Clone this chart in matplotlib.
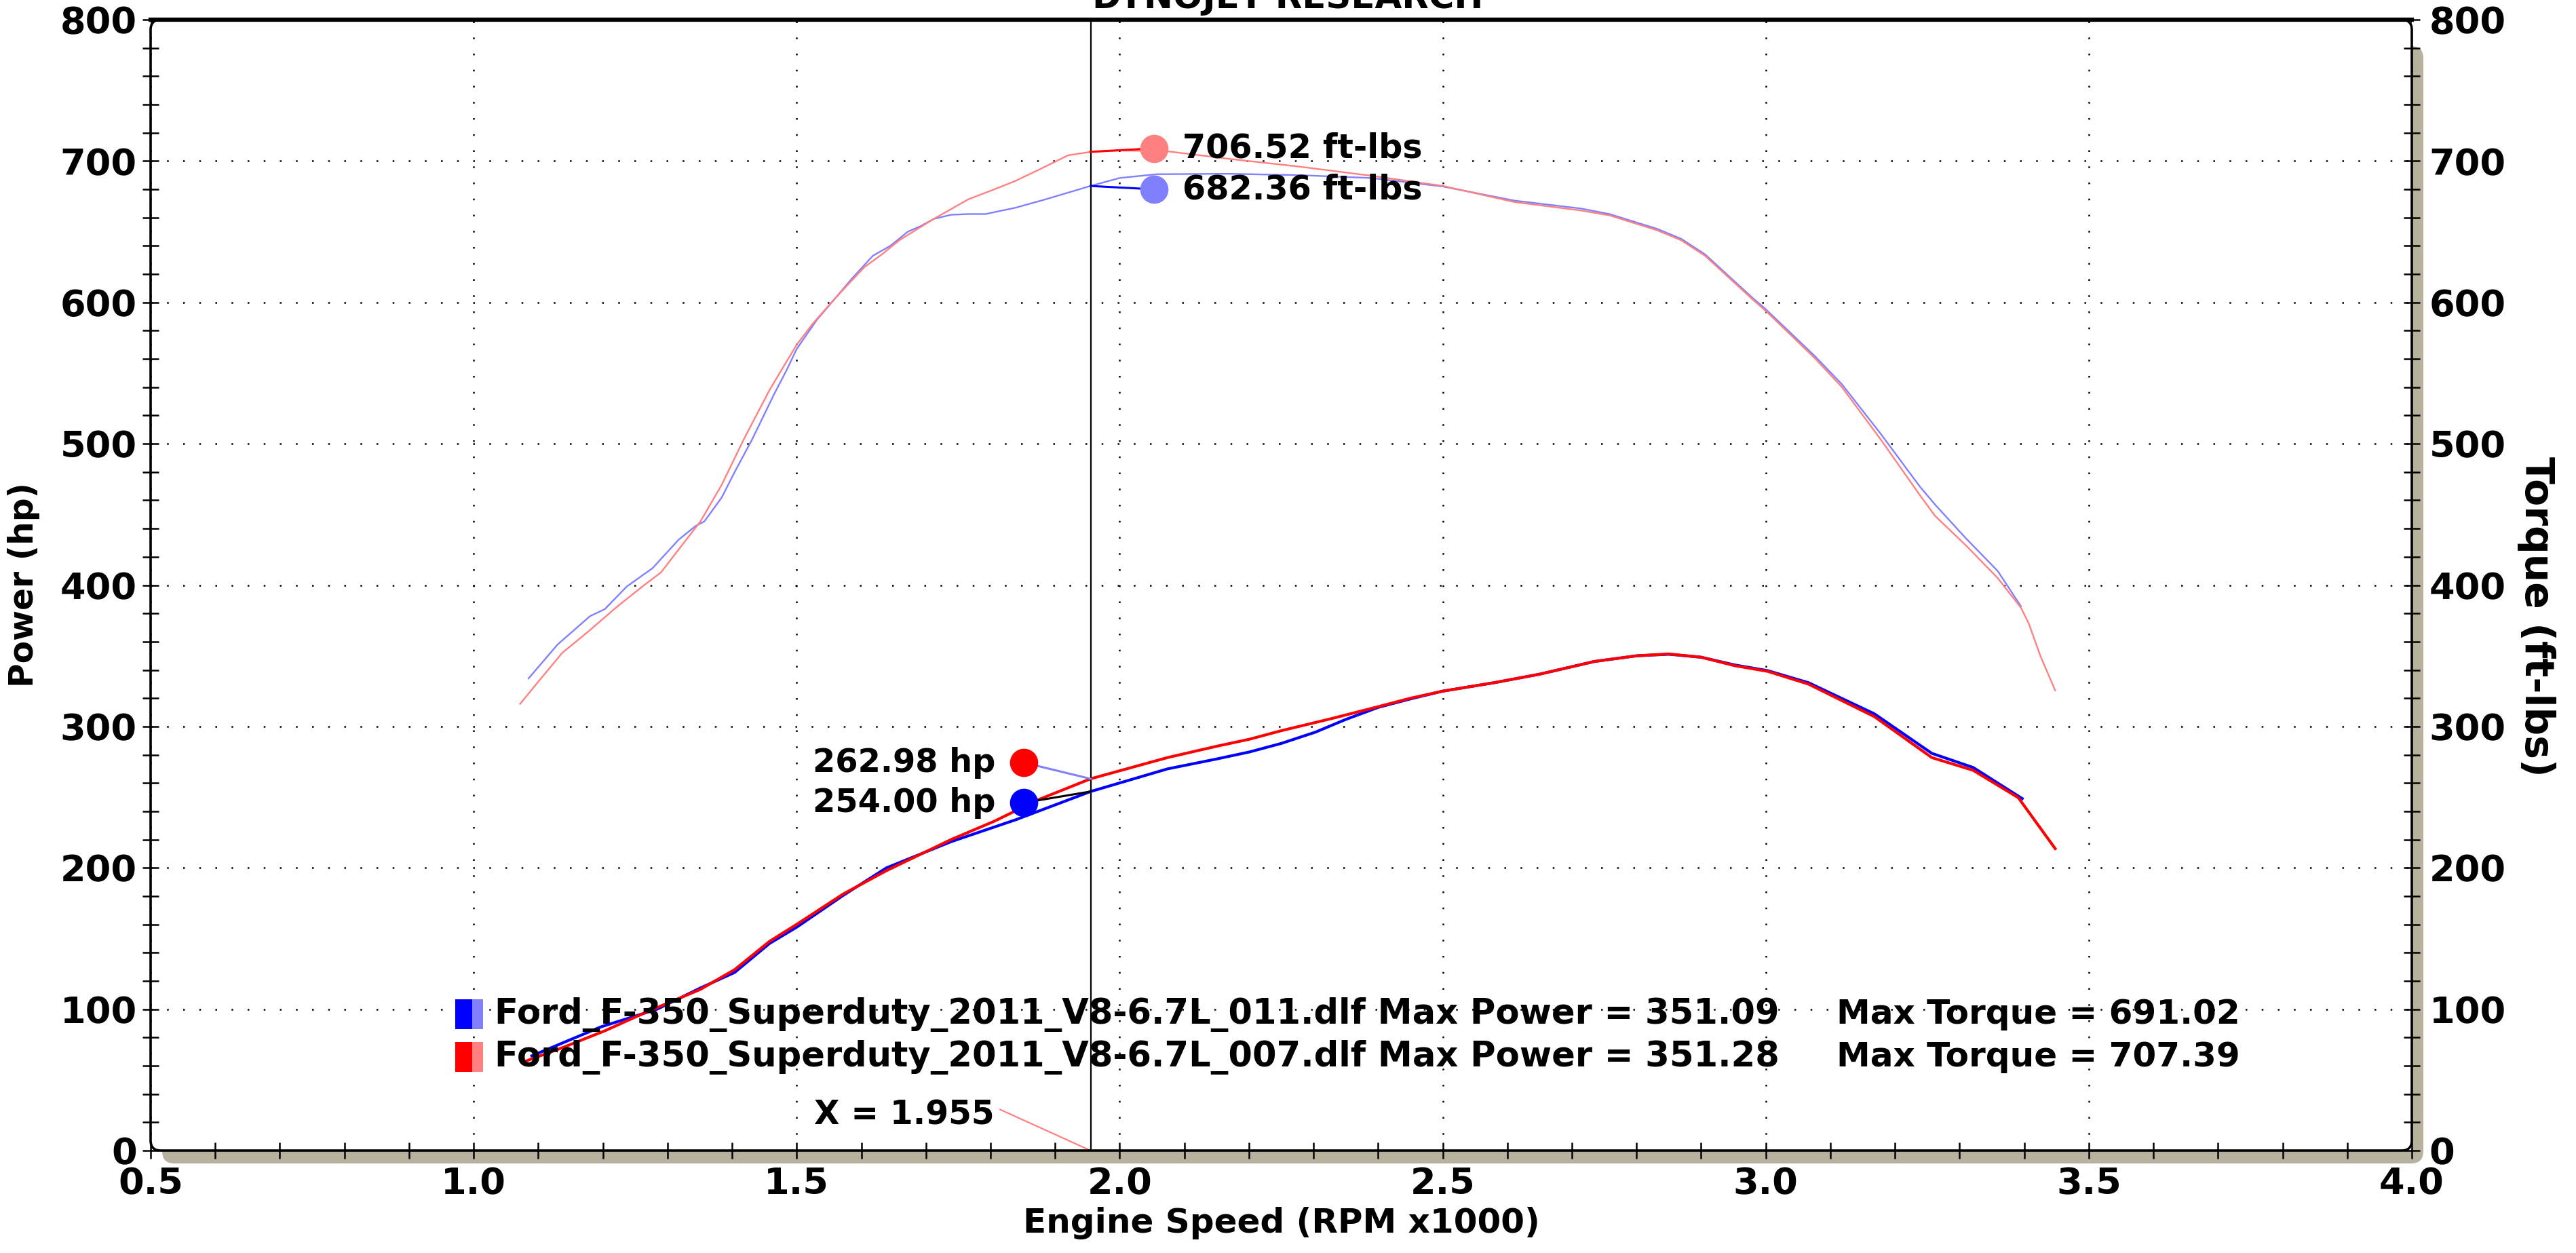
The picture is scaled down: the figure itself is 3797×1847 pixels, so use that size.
import matplotlib
matplotlib.use("Agg")
from matplotlib import pyplot as plt
from matplotlib.patches import FancyBboxPatch, Rectangle
from matplotlib.ticker import MultipleLocator, FormatStrFormatter

plt.rcParams['font.family'] = ['DejaVu Sans']
plt.rcParams['font.weight'] = 'bold'

# run 011 (blue) - torque (ft-lbs) and power (hp) vs engine speed (RPM x1000)
blue_tq_rpm = [1.085, 1.130, 1.180, 1.203, 1.237, 1.277, 1.317, 1.344, 1.357, 1.384, 1.404, 1.431,
               1.465, 1.485, 1.500, 1.531, 1.558, 1.585, 1.618, 1.645, 1.672, 1.692, 1.712, 1.739,
               1.766, 1.792, 1.839, 1.886, 1.955, 2.000, 2.058, 2.168, 2.279, 2.389, 2.500, 2.611,
               2.714, 2.758, 2.832, 2.869, 2.906, 2.980, 2.998, 3.076, 3.118, 3.178, 3.238, 3.262,
               3.310, 3.359, 3.395]
blue_tq = [334, 358, 378, 383, 399, 412, 432, 442, 445, 462, 480, 503,
           535, 552.6, 567, 587.5, 602, 616.6, 633, 640, 650, 654, 659, 662,
           662.5, 662.5, 667, 673, 682.4, 688, 690.7, 691, 690, 688, 682, 672,
           666.4, 662.5, 652, 645, 634, 603, 596, 562, 542, 507, 470, 457,
           433, 410, 385]
blue_hp_rpm = [1.090, 1.197, 1.284, 1.351, 1.404, 1.458, 1.500, 1.572, 1.639, 1.739, 1.839, 1.955,
               2.074, 2.150, 2.201, 2.250, 2.303, 2.350, 2.400, 2.450, 2.500, 2.580, 2.650, 2.735,
               2.800, 2.850, 2.900, 2.952, 3.003, 3.066, 3.168, 3.257, 3.321, 3.397]
blue_hp = [67, 87.5, 100, 115, 126, 146.5, 158, 180.5, 200, 218.5, 234, 254,
           270, 277, 282, 288, 296, 305, 313.5, 319.5, 325, 331, 337, 346,
           350, 351.1, 349, 343.5, 339.5, 331, 309, 281, 271, 249]

# run 007 (red)
red_tq_rpm = [1.072, 1.097, 1.137, 1.177, 1.224, 1.264, 1.290, 1.317, 1.351, 1.384, 1.418, 1.458,
              1.471, 1.500, 1.525, 1.552, 1.578, 1.605, 1.632, 1.659, 1.712, 1.739, 1.766, 1.806,
              1.839, 1.880, 1.920, 1.955, 2.000, 2.072, 2.168, 2.279, 2.389, 2.500, 2.611, 2.714,
              2.758, 2.832, 2.869, 2.906, 2.980, 3.000, 3.076, 3.118, 3.178, 3.238, 3.262, 3.310,
              3.359, 3.395, 3.407, 3.425, 3.448]
red_tq = [316, 330, 352, 367, 385.5, 400, 409, 425, 445, 471, 503, 538,
          548, 570, 585, 599, 612, 625, 634, 644, 659, 666, 673, 680,
          686, 695, 704, 706.5, 707.4, 707, 701.6, 696, 689.6, 682.4, 671, 665,
          661.6, 651, 644, 633, 602, 594, 560.5, 540, 503, 464, 449, 428,
          405, 384, 373, 350, 325.5]
red_hp_rpm = [1.076, 1.137, 1.203, 1.270, 1.351, 1.404, 1.458, 1.500, 1.572, 1.639, 1.739, 1.806,
              1.873, 1.955, 2.074, 2.150, 2.201, 2.250, 2.328, 2.400, 2.450, 2.500, 2.580, 2.650,
              2.735, 2.800, 2.850, 2.900, 2.952, 3.003, 3.066, 3.168, 3.257, 3.321, 3.391, 3.422,
              3.448]
red_hp = [62.5, 72.7, 84.7, 98.5, 114, 128, 148, 160, 181.5, 198, 220, 233,
          248, 263, 278, 286, 291, 297, 305.6, 314, 320, 325, 331, 337,
          346, 350, 351.3, 349, 343, 339, 330, 307, 278, 269, 249.6, 230,
          213.6]

cursor_x = 1.955
cursor_values = {"red_tq": 706.52, "blue_tq": 682.36, "red_hp": 262.98, "blue_hp": 254.00}
legend_files = ["Ford_F-350_Superduty_2011_V8-6.7L_011.dlf", "Ford_F-350_Superduty_2011_V8-6.7L_007.dlf"]
legend_power = [351.09, 351.28]
legend_torque = [691.02, 707.39]

BLUE, LBLUE = "#0000ff", "#8080ff"
RED, LRED = "#ff0000", "#ff8080"
SHADOW = "#b7b29e"

fig = plt.figure(figsize=(37.97, 18.47), dpi=100)
W, H = 37.97, 18.47
x0, y0, x1, y1 = 2.22, 18.47 - 16.96, 35.55, 18.47 - 0.29
ax = fig.add_axes([x0 / W, y0 / H, (x1 - x0) / W, (y1 - y0) / H])
ax.set_facecolor("white")

# shadow and rounded frame, drawn in inches
shadow = FancyBboxPatch((x0 + 0.17, y0 - 0.19), x1 - x0, y1 - y0 - 0.2,
                        boxstyle="round,pad=0,rounding_size=0.18",
                        transform=fig.dpi_scale_trans, facecolor=SHADOW, edgecolor="none", zorder=-1)
fig.patches.append(shadow)
frame = FancyBboxPatch((x0, y0), x1 - x0, y1 - y0,
                       boxstyle="round,pad=0,rounding_size=0.15",
                       transform=fig.dpi_scale_trans, facecolor="none", edgecolor="black",
                       linewidth=2.6, zorder=5)
fig.patches.append(frame)
for s in ax.spines.values():
    s.set_visible(False)

ax.set_xlim(0.5, 4.0)
ax.set_ylim(0, 800)
ax.xaxis.set_major_locator(MultipleLocator(0.5))
ax.xaxis.set_minor_locator(MultipleLocator(0.1))
ax.yaxis.set_major_locator(MultipleLocator(100))
ax.yaxis.set_minor_locator(MultipleLocator(20))
ax.xaxis.set_major_formatter(FormatStrFormatter("%.1f"))
ax.grid(True, which="major", color="black", linestyle=(0, (1, 8.5)), linewidth=1.8)
ax.tick_params(which="both", direction="inout", length=17, width=1.8, color="black")
ax.tick_params(axis="x", which="major", labelsize=39, pad=8)
ax.tick_params(axis="y", which="major", labelsize=39, pad=6)
ax.axhline(800, color="black", linewidth=4.5, zorder=6, clip_on=False)

ax2 = ax.twinx()
ax2.set_ylim(0, 800)
for s in ax2.spines.values():
    s.set_visible(False)
ax2.yaxis.set_major_locator(MultipleLocator(100))
ax2.yaxis.set_minor_locator(MultipleLocator(20))
ax2.tick_params(which="both", direction="inout", length=17, width=1.8, color="black")
ax2.tick_params(axis="y", which="major", labelsize=39, pad=10)

ax.set_xlabel("Engine Speed (RPM x1000)", fontsize=36, fontweight="bold")
ax.xaxis.set_label_coords(0.5, -0.05)
ax.set_ylabel("Power (hp)", fontsize=35, fontweight="bold", va="center", ha="center")
ax.yaxis.set_label_coords(-0.056, 0.5)
ax2.set_ylabel("Torque (ft-lbs)", fontsize=42, fontweight="bold", rotation=270, va="center", ha="center")
ax2.yaxis.set_label_coords(1.055, 0.472)

# curves
ax.plot(blue_tq_rpm, blue_tq, color=LBLUE, linewidth=1.7, zorder=3, solid_joinstyle="round")
ax.plot(red_tq_rpm, red_tq, color=LRED, linewidth=1.7, zorder=3, solid_joinstyle="round")
ax.plot(blue_hp_rpm, blue_hp, color=BLUE, linewidth=3.0, zorder=3, solid_joinstyle="round")
ax.plot(red_hp_rpm, red_hp, color=RED, linewidth=3.0, zorder=3, solid_joinstyle="round")

# cursor
ax.axvline(cursor_x, color="black", linewidth=1.6, zorder=4)
ax.plot([1.815, cursor_x], [29, 0], color=LRED, linewidth=1.6, zorder=4)
ax.text(1.527, 25, "X = %.3f" % cursor_x, fontsize=35, va="center", ha="left", zorder=7)

# cursor readouts
readouts = [
    (2.053, 709, "red_tq", RED, LRED, "%.2f ft-lbs", "left", 35.5),
    (2.053, 680, "blue_tq", BLUE, LBLUE, "%.2f ft-lbs", "left", 35.5),
    (1.851, 274.5, "red_hp", LBLUE, RED, "%.2f hp", "right", 34.5),
    (1.851, 246, "blue_hp", "black", BLUE, "%.2f hp", "right", 34.5),
]
for dx, dy, key, lc, mc, fmt, ha, fs in readouts:
    ax.plot([cursor_x, dx], [cursor_values[key], dy], color=lc, linewidth=2.2, zorder=5)
    ax.plot(dx, dy, "o", color=mc, markersize=30, markeredgewidth=0, zorder=6)
    tx = dx + 0.044 if ha == "left" else dx - 0.043
    ax.text(tx, dy, fmt % cursor_values[key], fontsize=fs, ha=ha, va="center", zorder=7)

# legend rows
rows_y = [96.4, 66.2]
swatch_cols = [(BLUE, LBLUE), (RED, LRED)]
for i in range(2):
    dark, light = swatch_cols[i]
    ax.add_patch(Rectangle((0.972, rows_y[i] - 10.5), 0.026, 21, facecolor=dark, edgecolor="none", zorder=6))
    ax.add_patch(Rectangle((0.998, rows_y[i] - 10.5), 0.017, 21, facecolor=light, edgecolor="none", zorder=6))
    ax.text(1.0325, rows_y[i], "%s Max Power = %.2f" % (legend_files[i], legend_power[i]),
            fontsize=36.8, va="center", ha="left", zorder=7)
    ax.text(3.109, rows_y[i], "Max Torque = %.2f" % legend_torque[i],
            fontsize=36, va="center", ha="left", zorder=7)

fig.text(0.5, (18.47 - 0.12) / H, "DYNOJET RESEARCH", fontsize=37, ha="center", va="baseline")

fig.savefig("out.png", dpi=100)
